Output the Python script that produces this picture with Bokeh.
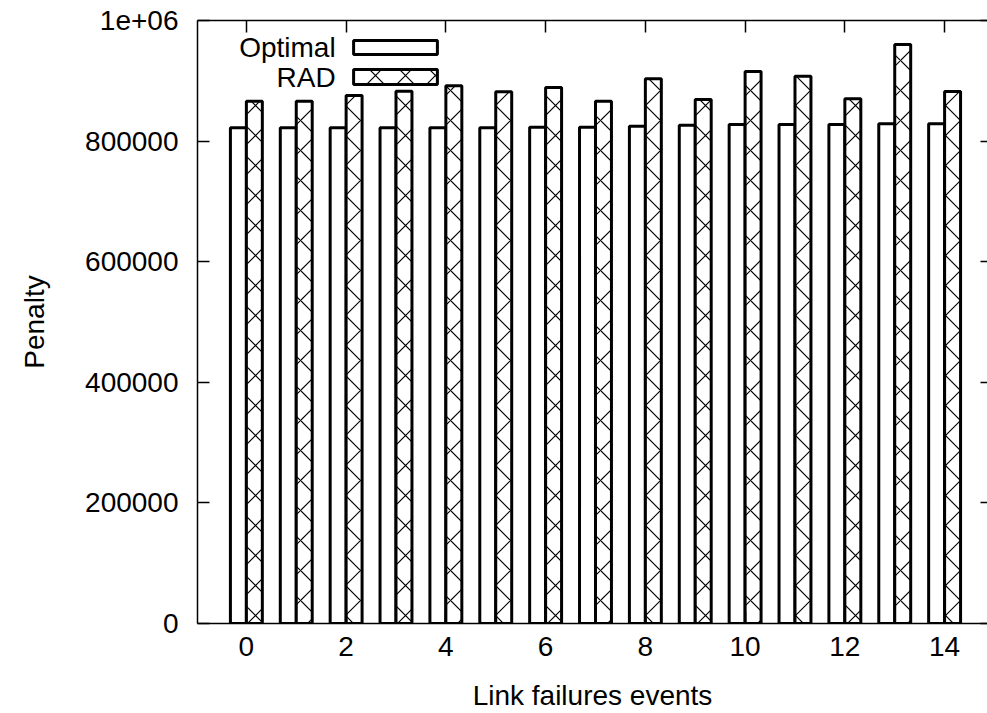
from bokeh.plotting import figure
from bokeh.models import (FixedTicker, LinearAxis, BoxAnnotation, Label,
                          CustomJSTickFormatter)
from bokeh.embed import file_html
from bokeh.resources import INLINE

# ---- data ----
events = list(range(15))
optimal = [822000, 822000, 822000, 822000, 822000, 822000, 823000, 823000,
           824700, 826400, 827500, 827500, 827500, 828700, 828700]
rad = [866000, 866000, 875600, 882800, 891700, 881800, 888900, 866000,
       903300, 869000, 915400, 907700, 870100, 960200, 882300]
series_names = ["Optimal", "RAD"]
x_ticks = [0, 2, 4, 6, 8, 10, 12, 14]
y_ticks = [0, 200000, 400000, 600000, 800000, 1000000]
y_tick_labels = {0: "0", 200000: "200000", 400000: "400000",
                 600000: "600000", 800000: "800000", 1000000: "1e+06"}

FONT = "Liberation Sans"
FS = "28px"
BW = 0.32
HATCH = dict(hatch_pattern="x", hatch_scale=30, hatch_weight=1.2,
             hatch_color="black")

p = figure(width=987, height=713, x_range=(-0.98, 14.86), y_range=(0, 1000000),
           output_backend="svg", toolbar_location=None,
           min_border_left=197, min_border_right=0, min_border_top=20,
           min_border_bottom=90)
p.outline_line_color = None
p.xgrid.visible = False
p.ygrid.visible = False
p.background_fill_color = "white"
p.border_fill_color = "white"

p.vbar(x=[e - BW / 2 for e in events], width=BW, top=optimal, bottom=0,
       fill_color="white", line_color="black", line_width=3)
p.vbar(x=[e + BW / 2 for e in events], width=BW, top=rad, bottom=0,
       fill_color="white", line_color="black", line_width=3, **HATCH)

def style(ax, labels=True):
    ax.major_tick_in = 12
    ax.major_tick_out = 0
    ax.minor_tick_in = 0
    ax.minor_tick_out = 0
    ax.axis_line_color = "black"
    ax.axis_line_width = 1.5
    ax.major_tick_line_width = 1.5
    ax.major_label_text_font = FONT
    ax.major_label_text_font_size = FS
    ax.major_label_text_color = "black"
    ax.axis_label_text_font = FONT
    ax.axis_label_text_font_size = FS
    ax.axis_label_text_font_style = "normal"
    ax.axis_label_text_color = "black"
    if not labels:
        ax.formatter = CustomJSTickFormatter(code="return ''")
        ax.major_label_standoff = 0

xa = p.xaxis[0]
xa.ticker = FixedTicker(ticks=x_ticks)
style(xa)
xa.major_label_standoff = 13
xa.axis_label = "Link failures events"
xa.axis_label_standoff = 21

ya = p.yaxis[0]
ya.ticker = FixedTicker(ticks=y_ticks)
ya.major_label_overrides = y_tick_labels
style(ya)
ya.major_label_standoff = 19
ya.axis_label = "Penalty"
ya.axis_label_standoff = 32

top = LinearAxis(ticker=FixedTicker(ticks=x_ticks))
style(top, labels=False)
p.add_layout(top, "above")

right = LinearAxis(ticker=FixedTicker(ticks=y_ticks))
style(right, labels=False)
right.axis_line_color = None
right.major_tick_in = 7
p.add_layout(right, "right")

# ---- legend (gnuplot style: text left, sample right) ----
leg_text_x = 1.79
leg_box_l, leg_box_r = 2.15, 3.83
rows = [(966800, 943600), (918700, 893900)]
for i, (name, (t, b)) in enumerate(zip(series_names, rows)):
    kw = dict(left=leg_box_l, right=leg_box_r, top=t, bottom=b,
              fill_color="white", fill_alpha=1, line_color="black",
              line_width=3, line_alpha=1)
    if i == 1:
        kw.update(hatch_alpha=1, **HATCH)
    p.add_layout(BoxAnnotation(**kw))
    p.add_layout(Label(x=leg_text_x, y=(t + b) / 2, text=name,
                       text_align="right", text_baseline="middle",
                       text_font=FONT, text_font_size=FS, text_color="black"))

open("out.html", "w").write(file_html(p, INLINE))
